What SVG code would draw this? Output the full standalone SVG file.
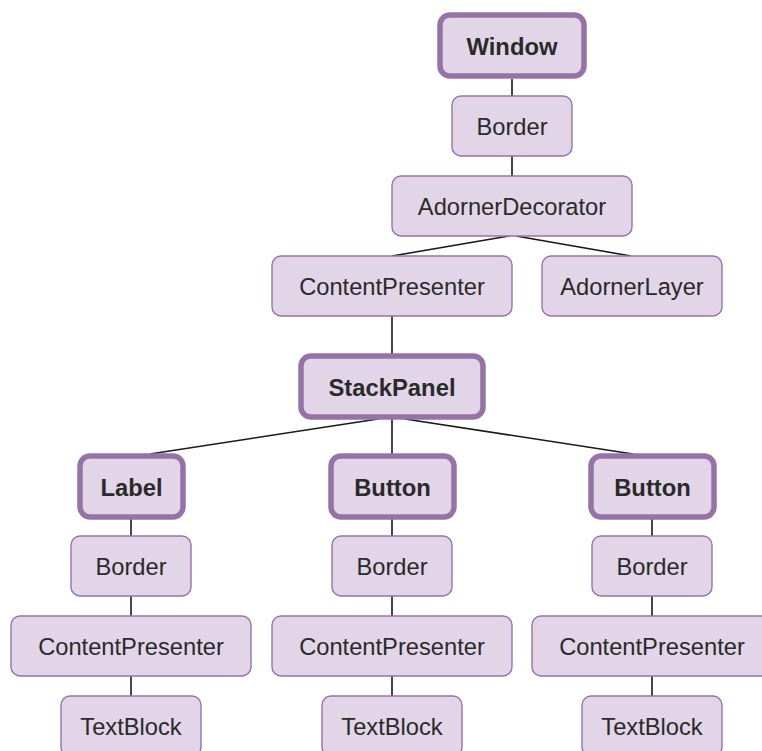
<svg xmlns="http://www.w3.org/2000/svg" width="762" height="751" viewBox="0 0 762 751">
<style>
.n{fill:#e1d5e7;stroke:#9673a6;stroke-width:1.4}
.k{fill:#e1d5e7;stroke:#9673a6;stroke-width:5.5}
.t{font-family:"Liberation Sans",Arial,sans-serif;font-size:23.7px;fill:#2a2a2a;text-anchor:middle}
.b{font-weight:bold;font-size:23.8px}
.e{stroke:#1a1a1a;stroke-width:1.6;fill:none}
</style>
<rect width="762" height="751" fill="#fff"/>
<g id="edges">
<path class="e" d="M512 79V96M512 156V176M509 236L392 256M516 236L631 256M392 316V354M378 419L150 454M392 419V454M405 419L633 454"/>
<path class="e" d="M131 519V536M131 596V616M131 676V696M392 519V536M392 596V616M392 676V696M652 519V536M652 596V616M652 676V696"/>
</g>
<g id="window"><rect class="k" x="440" y="15" width="144" height="61" rx="10"/><text class="t b" x="512" y="55">Window</text></g>
<g id="border0"><rect class="n" x="452" y="96" width="120" height="60" rx="9"/><text class="t" x="512" y="135">Border</text></g>
<g id="adornerDecorator"><rect class="n" x="392" y="176" width="240" height="60" rx="9"/><text class="t" x="512" y="215">AdornerDecorator</text></g>
<g id="contentPresenter0"><rect class="n" x="272" y="256" width="240" height="60" rx="9"/><text class="t" x="392" y="295">ContentPresenter</text></g>
<g id="adornerLayer"><rect class="n" x="542" y="256" width="180" height="60" rx="9"/><text class="t" x="632" y="295">AdornerLayer</text></g>
<g id="stackPanel"><rect class="k" x="301" y="356" width="182" height="61" rx="10"/><text class="t b" x="392" y="396">StackPanel</text></g>
<g id="label"><rect class="k" x="80" y="456" width="103" height="61" rx="10"/><text class="t b" x="131.5" y="496">Label</text></g>
<g id="button1"><rect class="k" x="331" y="456" width="123" height="61" rx="10"/><text class="t b" x="392.5" y="496">Button</text></g>
<g id="button2"><rect class="k" x="591" y="456" width="123" height="61" rx="10"/><text class="t b" x="652.5" y="496">Button</text></g>
<g id="border1"><rect class="n" x="71" y="536" width="120" height="60" rx="9"/><text class="t" x="131" y="575">Border</text></g>
<g id="border2"><rect class="n" x="332" y="536" width="120" height="60" rx="9"/><text class="t" x="392" y="575">Border</text></g>
<g id="border3"><rect class="n" x="592" y="536" width="120" height="60" rx="9"/><text class="t" x="652" y="575">Border</text></g>
<g id="contentPresenter1"><rect class="n" x="11" y="616" width="240" height="60" rx="9"/><text class="t" x="131" y="655">ContentPresenter</text></g>
<g id="contentPresenter2"><rect class="n" x="272" y="616" width="240" height="60" rx="9"/><text class="t" x="392" y="655">ContentPresenter</text></g>
<g id="contentPresenter3"><rect class="n" x="532" y="616" width="240" height="60" rx="9"/><text class="t" x="652" y="655">ContentPresenter</text></g>
<g id="textBlock1"><rect class="n" x="61" y="696" width="140" height="60" rx="9"/><text class="t" x="131" y="735">TextBlock</text></g>
<g id="textBlock2"><rect class="n" x="322" y="696" width="140" height="60" rx="9"/><text class="t" x="392" y="735">TextBlock</text></g>
<g id="textBlock3"><rect class="n" x="582" y="696" width="140" height="60" rx="9"/><text class="t" x="652" y="735">TextBlock</text></g>
</svg>
